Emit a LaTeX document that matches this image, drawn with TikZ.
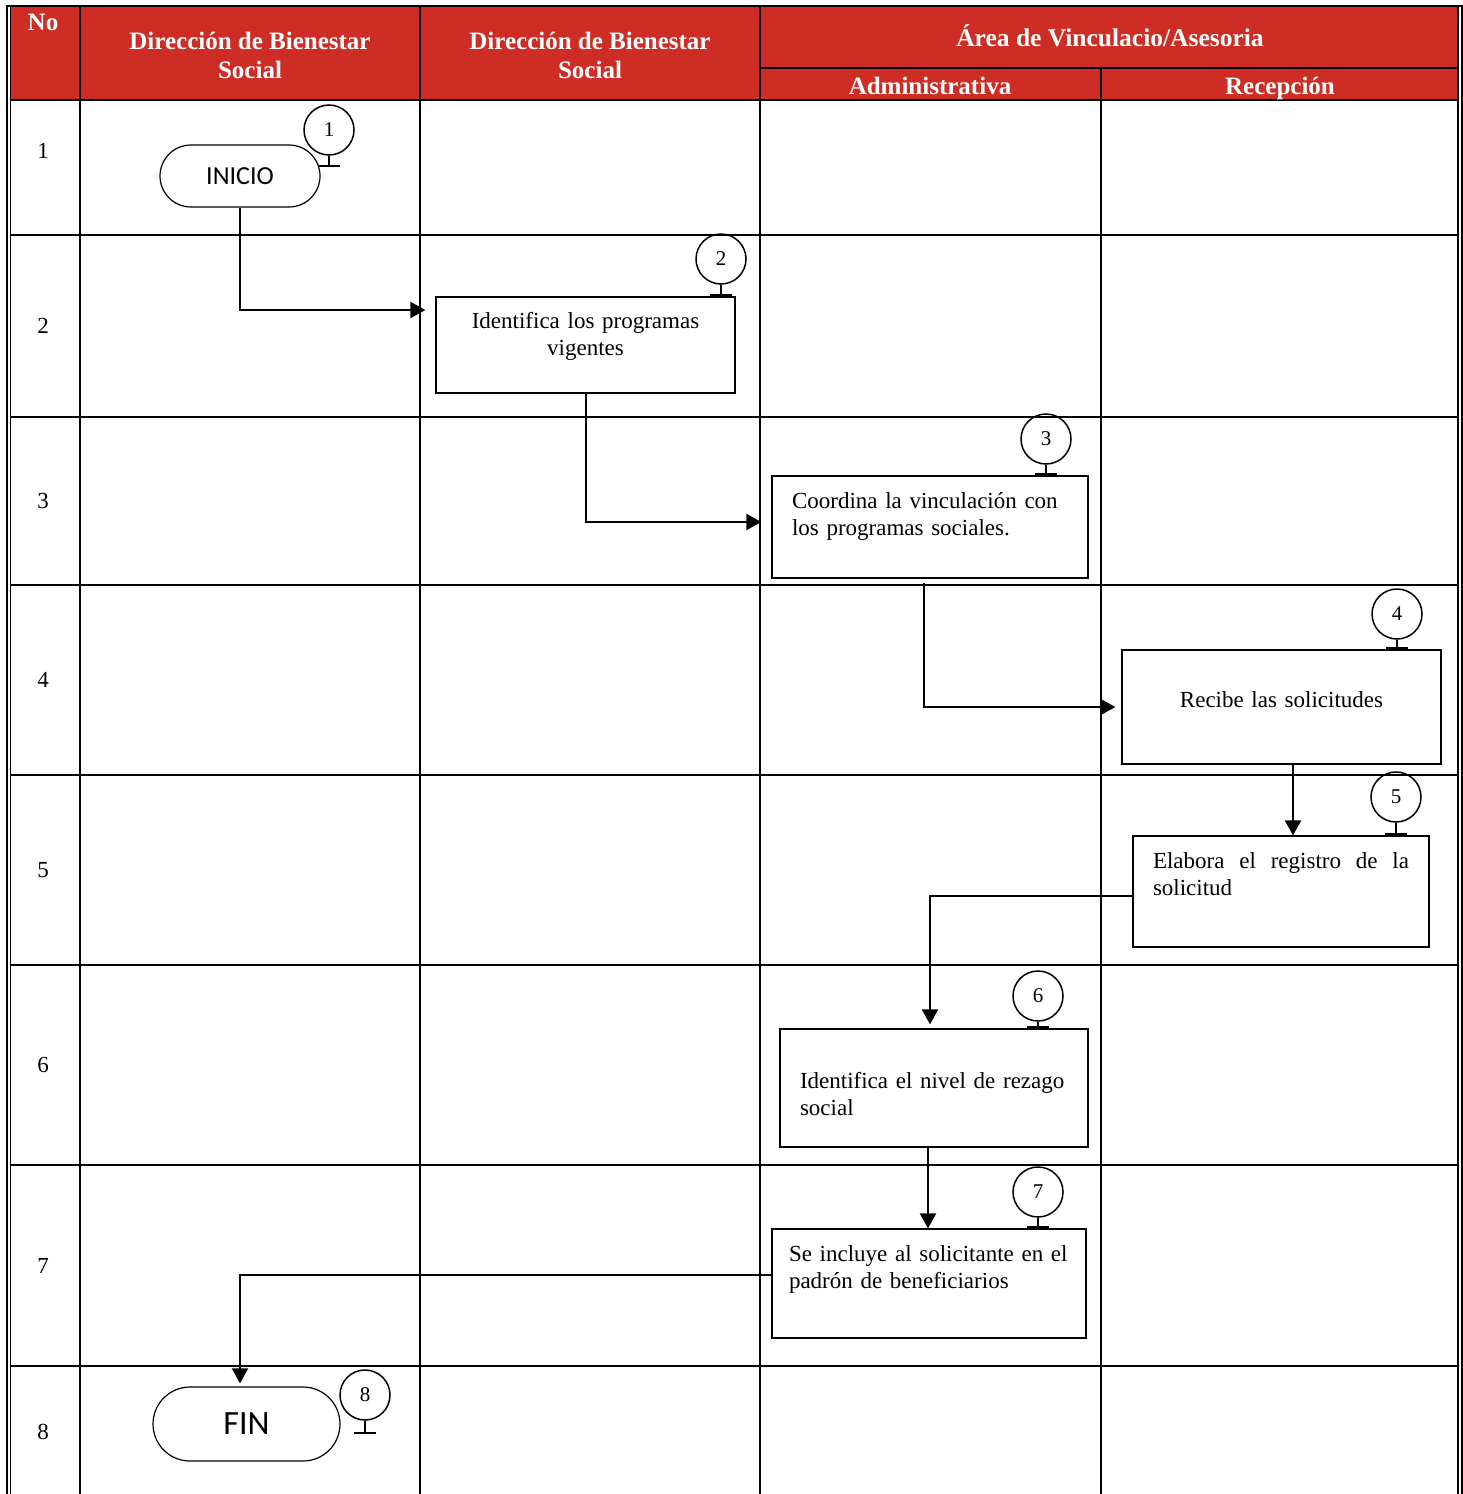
\documentclass[tikz,border=0pt]{standalone}
\usepackage{fontspec}
\setmainfont{Liberation Serif}
\newfontfamily\termfont{Carlito}
\usetikzlibrary{shapes.misc,arrows.meta,calc}
\definecolor{hdred}{RGB}{205,45,36}
\newcommand\myfs[2]{\fontsize{#1}{#2}\selectfont}

\tikzset{
  gridline/.style={line width=2pt},
  hdtext/.style={text=white, font=\myfs{25}{29}\bfseries, align=center, inner sep=0pt},
  hdline/.style={hdtext, text height=17pt, text depth=5pt},
  rownum/.style={font=\myfs{23}{23}, inner sep=0pt},
  proc/.style={draw, line width=1.2pt, font=\myfs{23}{27}, inner xsep=20pt, inner ysep=0pt},
  term/.style={draw, rounded rectangle, line width=1.2pt, inner sep=0pt, font=\termfont},
  numc/.style={draw, circle, line width=1.5pt, minimum size=50pt, inner sep=0pt, font=\myfs{21}{21}},
  tick/.style={line width=1.5pt},
  arr/.style={line width=2pt, -{Triangle[length=15pt,width=16pt]}},
}

\begin{document}
\begin{tikzpicture}[x=1pt,y=-1pt]
\useasboundingbox (0,0) rectangle (1463,1494);

% header band
\fill[hdred] (10,7) rectangle (1458,100);

% table rules
\foreach \yy in {235,417,585,775,965,1165,1366}
  \draw[gridline] (10,\yy) -- (1458,\yy);
\draw[line width=2.5pt] (10,100) -- (1458,100);
\draw[line width=1.5pt] (760,68) -- (1458,68);
\foreach \xx in {80,420,760}
  \draw[gridline] (\xx,6) -- (\xx,1494);
\draw[gridline] (1101,68) -- (1101,1494);

% double outer frame
\draw[line width=2pt] (6.5,1494) -- (6.5,6) -- (1461.5,6) -- (1461.5,1494);
\draw[line width=1.5pt] (10.5,6) -- (10.5,1494);
\draw[line width=1.5pt] (1458,6) -- (1458,1494);

% header texts
\node[hdline] (hno) at (43,24) {No};
\node[hdtext] (hcol1) at (250,55) {Dirección de Bienestar\\Social};
\node[hdtext] (hcol2) at (590,55) {Dirección de Bienestar\\Social};
\node[hdline, font=\myfs{25.5}{29}\bfseries] (harea) at (1110,40) {Área de Vinculacio/Asesoria};
\node[hdline] (hadm) at (930,88) {Administrativa};
\node[hdline] (hrec) at (1280,88) {Recepción};

% row numbers
\node[rownum] (r1) at (43,151) {1};
\node[rownum] (r2) at (43,326) {2};
\node[rownum] (r3) at (43,501) {3};
\node[rownum] (r4) at (43,680) {4};
\node[rownum] (r5) at (43,870) {5};
\node[rownum] (r6) at (43,1065) {6};
\node[rownum] (r7) at (43,1266) {7};
\node[rownum] (r8) at (43,1432) {8};

% terminals
\node[term, minimum width=160pt, minimum height=62pt, font=\termfont\myfs{26}{26}] (inicio) at (240,176) {INICIO};
\node[term, minimum width=187pt, minimum height=74pt, font=\termfont\myfs{34}{34}] (fin) at (246.5,1424) {FIN};

% process boxes
\node[proc, text width=259pt, align=center, minimum height=96pt, text depth=49pt] (b2) at (585.5,345)
  {Identifica los programas\\vigentes};
\node[proc, text width=276pt, align=left, minimum height=102pt, text depth=53pt] (b3) at (930,527)
  {Coordina la vinculación con\\los programas sociales.};
\node[proc, text width=279pt, align=center, minimum height=114pt, text depth=15pt] (b4) at (1281.5,707)
  {Recibe las solicitudes};
\node[proc, text width=256pt, align=left, minimum height=111pt, text depth=61pt] (b5) at (1281,891.5)
  {Elabora\hfill el\hfill registro\hfill de\hfill la\\solicitud};
\node[proc, text width=268pt, align=left, minimum height=118pt, text height=29pt] (b6) at (934,1088)
  {Identifica el nivel de rezago\\social};
\node[proc, inner xsep=17pt, text width=280pt, align=left, minimum height=109pt, text depth=60pt] (b7) at (929,1283.5)
  {Se incluye al solicitante en el\\padrón de beneficiarios};

% step markers
\node[numc] (c1) at (329,130) {1};
\node[numc] (c2) at (721,259) {2};
\node[numc] (c3) at (1046,439) {3};
\node[numc] (c4) at (1397,614) {4};
\node[numc] (c5) at (1396,797) {5};
\node[numc] (c6) at (1038,996) {6};
\node[numc] (c7) at (1038,1192) {7};
\node[numc] (c8) at (365,1395) {8};

\draw[tick] (c1.south) -- ++(0,10) ++(-11,0) -- ++(22,0);
\foreach \c/\b in {c2/b2,c3/b3,c4/b4,c5/b5,c6/b6,c7/b7}
  \draw[tick] (\c.south) -- ([yshift=1.5pt]\c.south |- \b.north) ++(-11,0) -- ++(22,0);
\draw[tick] (c8.south) -- ++(0,12) ++(-11,0) -- ++(22,0);

% flow
\draw[arr, shorten >=10pt] (inicio.south) |- ([yshift=35pt]b2.west);
\draw[arr, shorten >=10pt] (b2.south) |- ([yshift=5pt]b3.west);
\draw[arr, shorten >=6pt] ([xshift=-6pt,yshift=-4pt]b3.south) |- (b4.west);
\draw[arr] ([xshift=11.5pt]b4.south) -- ([xshift=11.5pt]b4.south |- b5.north);
\draw[arr, shorten >=4pt] ([yshift=-4.5pt]b5.west) -| ([xshift=-4pt]b6.north);
\draw[arr] ([xshift=-6pt]b6.south) -- ([xshift=-6pt]b6.south |- b7.north);
\draw[arr, shorten >=3pt] ([yshift=8.5pt]b7.west) -| ([xshift=-6.5pt]fin.north);
\end{tikzpicture}
\end{document}
